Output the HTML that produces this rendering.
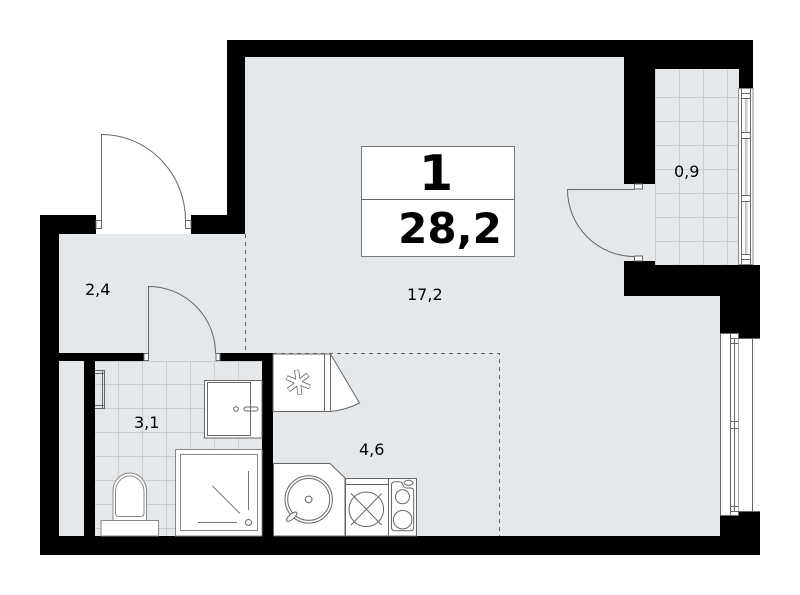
<!DOCTYPE html>
<html><head><meta charset="utf-8"><style>
html,body{margin:0;padding:0;background:#fff}
svg{display:block}
text{font-family:"DejaVu Sans","Liberation Sans",sans-serif;fill:#000}
.s{stroke:#666;stroke-width:1;fill:none}
.f{stroke:#666;stroke-width:1;fill:#fff}
.t{stroke:#ccc;stroke-width:1;fill:none}
.d{stroke:#666;stroke-width:1;fill:none;stroke-dasharray:4 4}
</style></head><body>
<svg width="800" height="595" viewBox="0 0 800 595" xmlns="http://www.w3.org/2000/svg">
<rect width="800" height="595" fill="#fff"/>
<!-- floor -->
<path d="M59 234H245V57H655V69H739V265H655V296H720V536H59Z" fill="#e5e8eb"/>
<!-- tiles -->
<path class="t" d="M655.500 97.500H739M655.500 121.500H739M655.500 145.500H739M655.500 169.500H739M655.500 193.500H739M655.500 217.500H739M655.500 241.500H739M679.500 69V265M703.500 69V265M727.500 69V265M655.500 69V265"/>
<path class="t" d="M95 384.500H262M95 408.500H262M95 432.500H262M95 456.500H262M95 480.500H262M95 504.500H262M95 528.500H262M118.500 361V536M142.500 361V536M166.500 361V536M190.500 361V536M214.500 361V536M238.500 361V536M95 361.500H262"/>
<!-- walls -->
<g fill="#000">
<path d="M227 40H753V88H739V69H655V184H624V57H245V234H191V215H227Z"/>
<path d="M40 215H96V234H59V536H720V516H738V512H760V555H40Z"/>
<path d="M624 261H655V265H760V338H738V333H720V296H624Z"/>
<rect x="59" y="353" width="85" height="8"/>
<rect x="84" y="361" width="11" height="175"/>
<rect x="220" y="353" width="53" height="8"/>
<rect x="262" y="353" width="11" height="183"/>
</g>
<!-- dashed -->
<path class="d" d="M245.500 234V353M273 353.500H499.500V536"/>
<!-- entry door -->
<path class="f" d="M96 220.500H101.500V228.500H96ZM185.500 220.500H191V228.500H185.500Z"/>
<path class="s" d="M101.500 220.500V134.500A84 86 0 0 1 185.500 220.500"/>
<!-- bath door -->
<path class="f" d="M144 353.500H148.500V360.500H144ZM216 353.500H220V360.500H216Z"/>
<path class="s" d="M148.500 353.500V286.500A67 67 0 0 1 215.500 353.500"/>
<!-- balcony door -->
<path class="f" d="M634.500 184H642.500V189H634.500ZM634.500 256H642.500V261H634.500Z"/>
<path class="s" d="M634.500 189.500H567.500A67 67 0 0 0 634.500 256.500"/>
<!-- balcony window -->
<rect x="738.500" y="88.500" width="14.500" height="176" fill="#fff" stroke="#888" stroke-width="1"/>
<path d="M745.500 98V255M747 98V255" stroke="#bbb" fill="none"/>
<path class="s" d="M741.500 88.500V264.500M750.500 88.500V264.500M741.500 93.500H750.500M741.500 98.500H750.500M741.500 254.500H750.500M741.500 259.500H750.500"/>
<rect x="741.500" y="132.500" width="9" height="6" class="f"/>
<rect x="741.500" y="195.500" width="9" height="6" class="f"/>
<!-- main window -->
<rect x="720.500" y="333.500" width="18" height="182" class="f"/>
<rect x="738.500" y="338.500" width="22" height="173" fill="#fff"/>
<path d="M738.500 338V511" stroke="#aaa" fill="none"/>
<path class="s" d="M730.500 333.500V515.500M734.500 338V511M752.500 338.500V511.500M738 338.500H760M738 511.500H760M730.500 338.500H738.500M730.500 343.500H738.500M730.500 421.500H738.500M730.500 428.500H738.500M730.500 506.500H738.500M730.500 511.500H738.500"/>
<!-- towel -->
<path class="s" d="M95 370.500H104.500V408.500H95M95 373.500H104.500M95 405.500H104.500M102.500 370.500V408.500"/>
<!-- vanity -->
<path d="M262 380.500H204.500V438H262Z" class="f"/>
<rect x="207.500" y="382.500" width="43" height="53" class="s"/>
<circle cx="236" cy="409" r="2.300" class="s"/>
<rect x="244" y="407" width="14" height="4" rx="2" class="s"/>
<!-- shower -->
<path d="M262 449.500H175.500V536H262Z" fill="#fff" stroke="#888"/>
<rect x="180.500" y="454.500" width="77" height="76" fill="#fff" stroke="#888"/>
<path d="M248.500 471V510M212.500 486L240 513.500M198 522.500H237" stroke="#777" fill="none"/>
<circle cx="248.500" cy="522.500" r="3" class="s"/>
<!-- toilet -->
<path d="M113 520.500V491A16.750 18 0 0 1 146.500 491V520.500Z" fill="#fff" stroke="#888"/>
<path d="M115.500 513V492A14.250 16 0 0 1 144 492V513Q144 516.500 140.500 516.500H119Q115.500 516.500 115.500 513Z" fill="#fff" stroke="#888"/>
<rect x="101" y="520.500" width="57.500" height="15.500" fill="#fff" stroke="#888"/>
<!-- kitchen unit top -->
<rect x="273" y="354" width="57.500" height="57.500" class="f" stroke-width="1"/>
<path class="f" d="M330.500 354L359.500 403Q346 410 330.500 411.500Z"/>
<path class="s" d="M324.500 354V411.500"/>
<g transform="translate(298.300 382.300) rotate(-8)" stroke-linecap="butt">
<path d="M0-12.500V12.500M-10.800-6.250L10.800 6.250M-10.800 6.250L10.800-6.250" stroke="#666" stroke-width="5" fill="none"/>
<path d="M0-12V12M-10.400-6L10.400 6M-10.400 6L10.400-6" stroke="#fff" stroke-width="3.400" fill="none"/>
</g>
<!-- counter -->
<path d="M273.500 463.500H330L345 478V536H273.500Z" class="f"/>
<circle cx="308.700" cy="499.400" r="23.700" class="s"/>
<circle cx="308.700" cy="499.400" r="21" class="s"/>
<circle cx="308.700" cy="499.400" r="3.300" class="s"/>
<ellipse cx="291.700" cy="516.700" rx="6.500" ry="2.500" transform="rotate(-41 291.700 516.700)" class="f"/>
<!-- stove -->
<rect x="345.500" y="478.500" width="43" height="57.500" class="f"/>
<path class="s" d="M345.500 484.500H388.500M351 493.500L381.700 525M381.700 493.500L351 525"/>
<circle cx="366.300" cy="509.300" r="17.300" class="s"/>
<!-- hob -->
<rect x="388.500" y="478.500" width="28" height="57.500" class="f"/>
<path class="s" d="M391.500 485Q391.500 481.700 395 481.700H399Q402 481.700 403 485Q404 488 407 488H410.500Q413.700 488 413.700 491V527.500Q413.700 530.700 410.500 530.700H395Q391.500 530.700 391.500 527.500Z"/>
<ellipse cx="408.500" cy="482.800" rx="4.500" ry="2.500" class="s"/>
<circle cx="402.500" cy="496.800" r="7" class="s"/>
<circle cx="402.700" cy="519.700" r="9.300" class="s"/>
<!-- label -->
<rect x="361.500" y="146.500" width="153" height="110" fill="#fff" stroke="#777"/>
<path d="M361 199.500H515" stroke="#666"/>
<text x="436" y="190" font-size="49" font-weight="700" text-anchor="middle">1</text>
<text x="450" y="243" font-size="42" font-weight="700" text-anchor="middle">28,2</text>
<!-- areas -->
<text x="674" y="177" font-size="16">0,9</text>
<text x="407" y="300" font-size="16">17,2</text>
<text x="85" y="295" font-size="16">2,4</text>
<text x="134" y="428" font-size="16">3,1</text>
<text x="359" y="455" font-size="16">4,6</text>
</svg>
</body></html>
